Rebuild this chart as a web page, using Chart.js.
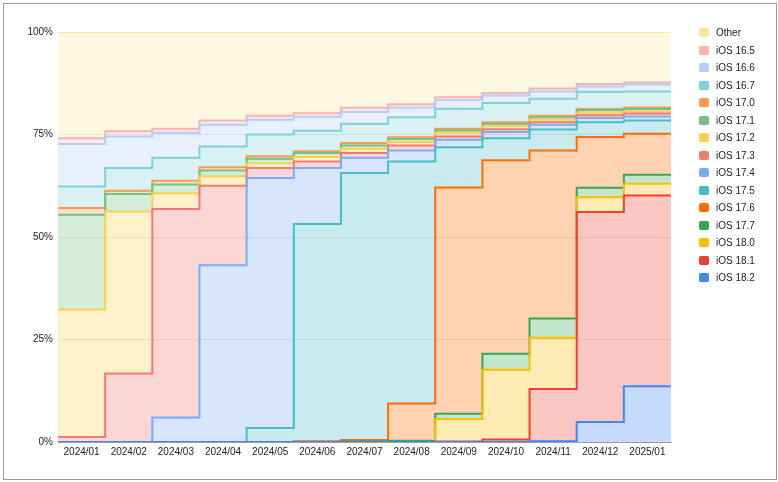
<!DOCTYPE html>
<html lang="en">
<head>
    <meta charset="UTF-8">
    <title>iOS versions</title>
    <script src="https://cdn.jsdelivr.net/npm/chart.js@4/dist/chart.umd.min.js"></script>
    <style>
        body { margin: 0; background: #fff; font-family: "Liberation Sans", Arial, sans-serif; }
        #frame { position: absolute; left: 3px; top: 3px; width: 772px; height: 475px; border: 1px solid #9a9a9a; }
        #wrap { position: absolute; left: 0; top: 0; width: 778px; height: 482px; }
        #legend { position: absolute; left: 699px; top: 24px; font-size: 10px; color: #222; }
        .item { height: 17.5px; display: flex; align-items: center; }
        .box { width: 10px; height: 9px; border-radius: 2px; margin-right: 7px; }
    </style>
</head>
<body>
    <div id="frame"></div>
    <div id="wrap"><canvas id="chart"></canvas></div>
    <div id="legend"></div>

    <script>
        // Meses (cada columna del gráfico escalonado)
        const meses = ['2024/01', '2024/02', '2024/03', '2024/04', '2024/05', '2024/06', '2024/07',
                       '2024/08', '2024/09', '2024/10', '2024/11', '2024/12', '2025/01'];

        // Porcentaje por versión
        const ios182 = [0, 0, 0, 0, 0, 0, 0, 0, 0, 0, 0.2, 4.9, 13.6];
        const ios181 = [0, 0, 0, 0, 0, 0, 0, 0, 0.1, 0.6, 12.7, 51.2, 46.5];
        const ios180 = [0, 0, 0, 0, 0, 0, 0, 0, 5.5, 17.0, 12.5, 3.6, 2.9];
        const ios177 = [0, 0, 0, 0, 0, 0, 0.1, 0.3, 1.3, 3.9, 4.7, 2.3, 2.2];
        const ios176 = [0, 0, 0, 0, 0, 0.2, 0.4, 9.1, 55.2, 47.2, 41.0, 12.4, 10.0];
        const ios175 = [0, 0, 0, 0, 3.4, 53.0, 65.1, 59.0, 9.8, 5.4, 5.1, 3.6, 3.2];
        const ios174 = [0, 0, 6.0, 43.1, 61.0, 13.6, 3.7, 2.7, 1.8, 1.5, 1.2, 1.0, 1.0];
        const ios173 = [1.2, 16.7, 50.8, 19.4, 2.4, 1.6, 1.2, 1.2, 0.8, 0.7, 0.6, 0.7, 0.7];
        const ios172 = [31.1, 39.5, 3.9, 2.3, 1.2, 1.1, 1.0, 0.9, 0.9, 0.7, 0.6, 0.5, 0.5];
        const ios171 = [23.1, 4.3, 2.1, 1.4, 1.1, 1.0, 0.8, 0.7, 0.6, 0.6, 0.6, 0.7, 0.6];
        const ios170 = [1.7, 0.8, 0.9, 0.8, 0.6, 0.4, 0.6, 0.4, 0.4, 0.4, 0.4, 0.3, 0.4];
        const ios167 = [5.2, 5.5, 5.6, 5.1, 5.3, 5.0, 4.7, 4.9, 4.9, 4.7, 4.1, 4.2, 3.9];
        const ios166 = [10.4, 7.7, 6.1, 5.3, 3.6, 3.4, 2.9, 2.4, 2.1, 1.8, 1.8, 1.3, 1.7];
        const ios165 = [1.4, 1.3, 1.0, 1.0, 1.0, 0.9, 1.0, 0.8, 0.7, 0.6, 0.7, 0.6, 0.5];
        const otros  = [25.9, 24.2, 23.6, 21.6, 20.4, 19.8, 18.5, 17.6, 15.9, 14.9, 13.8, 12.7, 12.3];

        const yTicks = [0, 25, 50, 75, 100];

        // Series de abajo hacia arriba
        const series = [
            { label: 'iOS 18.2', data: ios182, color: '#4285f4' },
            { label: 'iOS 18.1', data: ios181, color: '#ea4335' },
            { label: 'iOS 18.0', data: ios180, color: '#fbbc04' },
            { label: 'iOS 17.7', data: ios177, color: '#34a853' },
            { label: 'iOS 17.6', data: ios176, color: '#ff6d01' },
            { label: 'iOS 17.5', data: ios175, color: '#46bdc6' },
            { label: 'iOS 17.4', data: ios174, color: '#7baaf7' },
            { label: 'iOS 17.3', data: ios173, color: '#f07b72' },
            { label: 'iOS 17.2', data: ios172, color: '#fcd04f' },
            { label: 'iOS 17.1', data: ios171, color: '#71c287' },
            { label: 'iOS 17.0', data: ios170, color: '#ff994d' },
            { label: 'iOS 16.7', data: ios167, color: '#7ed1d7' },
            { label: 'iOS 16.6', data: ios166, color: '#b3cefb' },
            { label: 'iOS 16.5', data: ios165, color: '#f7b4ae' },
            { label: 'Other',    data: otros,  color: '#fde49b' }
        ];

        function alpha(hex, a) {
            const n = parseInt(hex.slice(1), 16);
            return `rgba(${n >> 16}, ${(n >> 8) & 255}, ${n & 255}, ${a})`;
        }

        // Cada valor se mantiene en su columna [i, i+1]
        function puntos(valores) {
            const pts = valores.map((v, i) => ({ x: i, y: v }));
            pts.push({ x: valores.length, y: valores[valores.length - 1] });
            return pts;
        }

        const datasets = series.map((s, i) => ({
            label: s.label,
            data: puntos(s.data),
            borderColor: s.color,
            backgroundColor: alpha(s.color, 0.3),
            borderWidth: 2,
            pointRadius: 0,
            stepped: 'before',
            fill: i === 0 ? 'origin' : '-1'
        }));

        const chart = new Chart(document.getElementById('chart'), {
            type: 'line',
            data: { datasets },
            options: {
                responsive: true,
                maintainAspectRatio: false,
                animation: false,
                layout: { padding: { top: 32, right: 107, bottom: 20, left: 0 } },
                plugins: { legend: { display: false }, tooltip: { enabled: false } },
                scales: {
                    x: {
                        type: 'linear',
                        min: 0,
                        max: meses.length,
                        afterBuildTicks: scale => { scale.ticks = meses.map((_, i) => ({ value: i + 0.5 })); },
                        afterFit: scale => { scale.height = 20; },
                        ticks: {
                            autoSkip: false,
                            maxRotation: 0,
                            padding: 4,
                            color: '#222',
                            font: { family: 'Liberation Sans', size: 10 },
                            callback: v => meses[Math.floor(v)]
                        },
                        grid: { display: false, drawTicks: false },
                        border: { display: true, color: '#9e9e9e', width: 1 }
                    },
                    y: {
                        stacked: true,
                        min: 0,
                        max: 100,
                        afterBuildTicks: scale => { scale.ticks = yTicks.map(v => ({ value: v })); },
                        afterFit: scale => { scale.width = 58; },
                        ticks: {
                            padding: 5,
                            color: '#222',
                            font: { family: 'Liberation Sans', size: 10 },
                            callback: v => v + '%'
                        },
                        grid: { color: 'rgba(0,0,0,0.1)', drawTicks: false },
                        border: { display: false }
                    }
                }
            }
        });

        // Leyenda: de arriba hacia abajo igual que las capas
        const legend = document.getElementById('legend');
        chart.data.datasets.slice().reverse().forEach(ds => {
            const item = document.createElement('div');
            item.className = 'item';
            item.innerHTML = `<span class="box" style="background:${ds.borderColor}"></span>${ds.label}`;
            legend.appendChild(item);
        });
    </script>
</body>
</html>
